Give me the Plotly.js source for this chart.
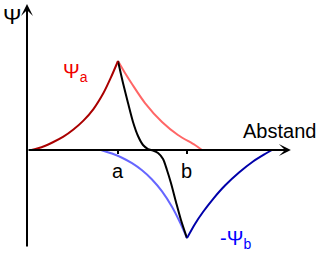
<!DOCTYPE html>
<html>
<head>
<meta charset="utf-8">
<script src="https://cdn.plot.ly/plotly-3.0.1.min.js"></script>
<style>html,body{margin:0;padding:0;background:#fff;}#chart{width:320px;height:255px;}</style>
</head>
<body>
<div id="chart"></div>
<script>
// Distance in units where a = 1; amplitude in units of the peak height.
const psiALeftX  = [0.05, 0.18, 0.29, 0.40, 0.51, 0.62, 0.73, 0.84, 0.92, 1.0];
const psiALeftY  = [0.0, 0.04, 0.09, 0.15, 0.23, 0.33, 0.46, 0.64, 0.81, 1.0];
const psiARightX = [1.0, 1.077, 1.154, 1.297, 1.484, 1.659, 1.846, 1.923];
const psiARightY = [1.0, 0.865, 0.742, 0.528, 0.315, 0.169, 0.056, 0.0];
const psiBLeftX  = [0.813, 0.934, 1.044, 1.154, 1.264, 1.374, 1.484, 1.593, 1.681, 1.758];
const psiBLeftY  = [0.0, -0.04, -0.087, -0.148, -0.228, -0.331, -0.465, -0.638, -0.813, -0.99];
const psiBRightX = [1.758, 1.846, 1.934, 2.044, 2.176, 2.330, 2.484, 2.615, 2.692];
const psiBRightY = [-0.99, -0.831, -0.697, -0.551, -0.399, -0.253, -0.129, -0.045, 0.0];
const diffX = [1.0, 1.055, 1.110, 1.165, 1.220, 1.275, 1.330, 1.385, 1.440, 1.495, 1.538, 1.582, 1.637, 1.692, 1.758];
const diffY = [1.0, 0.753, 0.528, 0.315, 0.157, 0.056, 0.011, -0.006, -0.034, -0.101, -0.225, -0.371, -0.584, -0.787, -0.99];
const tickVals = [1.0, 1.758];
const tickText = ['a', 'b'];
const axisLabelX = 'Abstand';
const axisLabelY = 'Ψ';
const labelA = 'Ψ<sub>a</sub>';
const labelB = '-Ψ<sub>b</sub>';

const font = 'Liberation Sans, Arial, sans-serif';
function line(x, y, color) {
  return {x: x, y: y, type: 'scatter', mode: 'lines',
          line: {color: color, width: 2, shape: 'spline', smoothing: 0.8},
          hoverinfo: 'skip', showlegend: false};
}
const traces = [
  line(psiARightX, psiARightY, '#ff6666'),
  line(psiBLeftX, psiBLeftY, '#6666ff'),
  line(diffX, diffY, '#000000'),
  line(psiALeftX, psiALeftY, '#aa0000'),
  line(psiBRightX, psiBRightY, '#0000aa')
];

const shapes = tickVals.map(v => ({type: 'line', xref: 'x', yref: 'y',
  x0: v, x1: v, y0: 0, y1: -0.045, line: {color: '#000', width: 2}}));

const annotations = [
  {x: 2.90, y: 0, ax: 0, ay: 0, axref: 'x', ayref: 'y', xref: 'x', yref: 'y',
   text: '', showarrow: true, arrowhead: 3, arrowsize: 1, arrowwidth: 2, arrowcolor: '#000', standoff: 0},
  {x: 0, y: 1.64, ax: 0, ay: -1.10, axref: 'x', ayref: 'y', xref: 'x', yref: 'y',
   text: '', showarrow: true, arrowhead: 3, arrowsize: 1, arrowwidth: 2, arrowcolor: '#000', standoff: 0},
  {x: 2.78, y: 0.208, xref: 'x', yref: 'y', text: axisLabelX, showarrow: false,
   font: {family: font, size: 20, color: '#000'}},
  {x: -0.17, y: 1.505, xref: 'x', yref: 'y', text: axisLabelY, showarrow: false,
   font: {family: font, size: 22, color: '#000'}},
  {x: 0.533, y: 0.87, xref: 'x', yref: 'y', text: labelA, showarrow: false,
   font: {family: font, size: 20, color: '#f00000'}},
  {x: 2.286, y: -1.0, xref: 'x', yref: 'y', text: labelB, showarrow: false,
   font: {family: font, size: 20, color: '#0000ff'}}
].concat(tickVals.map((v, i) => ({x: v, y: -0.236, xref: 'x', yref: 'y',
   text: tickText[i], showarrow: false, font: {family: font, size: 20, color: '#000'}})));

const layout = {
  width: 320, height: 255,
  margin: {l: 0, r: 0, t: 0, b: 0},
  paper_bgcolor: '#fff', plot_bgcolor: '#fff',
  xaxis: {range: [-0.2967, 3.2198], visible: false, fixedrange: true},
  yaxis: {range: [-1.1798, 1.6854], visible: false, fixedrange: true},
  shapes: shapes,
  annotations: annotations,
  showlegend: false
};
Plotly.newPlot('chart', traces, layout, {staticPlot: true, displayModeBar: false});
</script>
</body>
</html>
